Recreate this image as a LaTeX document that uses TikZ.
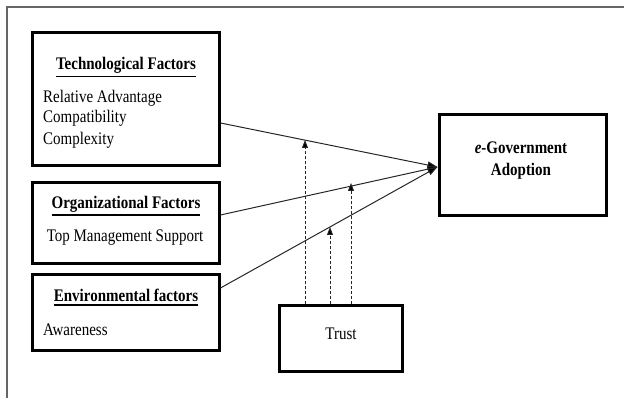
\documentclass[tikz,border=0pt]{standalone}
\usepackage{fontspec}
\setmainfont{Liberation Serif}
\usetikzlibrary{arrows.meta,calc}
\newcommand{\vs}[1]{\scalebox{1}[1.18]{#1}}
\newcommand{\thul}[1]{\vtop{\hbox{#1}\kern1.6pt\hrule height 1.3pt}}
\begin{document}
\begin{tikzpicture}[x=1pt,y=1pt,
  box/.style={draw=black,line width=3pt,fill=white,inner sep=0pt},
  txt/.style={inner sep=0pt,font=\fontsize{15}{18}\selectfont},
  frameline/.style={draw=black!60,line width=1.3pt},
  mainarr/.style={draw=black!85,line width=1pt,-{Triangle[length=10pt,width=7pt,fill=black]}},
  modarr/.style={draw=black!85,line width=0.9pt,dash pattern=on 3pt off 2pt,-{Triangle[length=8pt,width=6pt,fill=black]}}]
\useasboundingbox (0,0) rectangle (624,398);
% outer frame (top and left edges)
\coordinate (fa) at (7,0);
\coordinate (fb) at (7,391);
\coordinate (fc) at (624,391);
\draw[frameline] (fa) -- (fb) -- (fc);
% boxes
\node[box,minimum width=187pt,minimum height=133pt] (tech) at (125.5,298.5) {};
\node[box,minimum width=187pt,minimum height=81pt] (org) at (125.5,174.5) {};
\node[box,minimum width=187pt,minimum height=76pt] (env) at (125.5,85) {};
\node[box,minimum width=167pt,minimum height=101pt] (egov) at (522.5,232.5) {};
\node[box,minimum width=123pt,minimum height=66pt] (trust) at (340.5,59) {};
% texts
\node[txt] (techT) at (126,330.5) {\vs{\textbf{\thul{Technological Factors}}}};
\node[txt,anchor=west] (ra) at (43,300) {\vs{Relative Advantage}};
\node[txt,anchor=west] (co) at (43,279.5) {\vs{Compatibility}};
\node[txt,anchor=west] (cx) at (43,258) {\vs{Complexity}};
\node[txt] (orgT) at (126,192) {\vs{\textbf{\thul{Organizational Factors}}}};
\node[txt] (tms) at (125,160) {\vs{Top Management Support}};
\node[txt] (envT) at (126,100.5) {\vs{\textbf{\thul{Environmental factors}}}};
\node[txt,anchor=west] (aw) at (43,68) {\vs{Awareness}};
\node[txt] (eg1) at (521,250) {\vs{\textbf{\textit{e}-Government}}};
\node[txt] (eg2) at (521,227) {\vs{\textbf{Adoption}}};
\node[txt] (trT) at (341,64) {\vs{Trust}};
% main connectors
\coordinate (ts) at ([yshift=-23.5pt]tech.east);
\coordinate (os) at ([yshift=8.5pt]org.east);
\coordinate (es) at ([yshift=25pt]env.east);
\coordinate (ge) at ([yshift=-1.5pt]egov.west);
\draw[mainarr] (ts) -- (ge);
\draw[mainarr] (os) -- (ge);
\draw[mainarr] (es) -- (ge);
% moderating (dashed) connectors
\coordinate (m1) at (305,258);
\coordinate (m2) at (330,171);
\coordinate (m3) at (351,215);
\draw[modarr] ([xshift=-35.5pt]trust.north) -- (m1);
\draw[modarr] ([xshift=-10.5pt]trust.north) -- (m2);
\draw[modarr] ([xshift=10.5pt]trust.north) -- (m3);
\end{tikzpicture}
\end{document}
